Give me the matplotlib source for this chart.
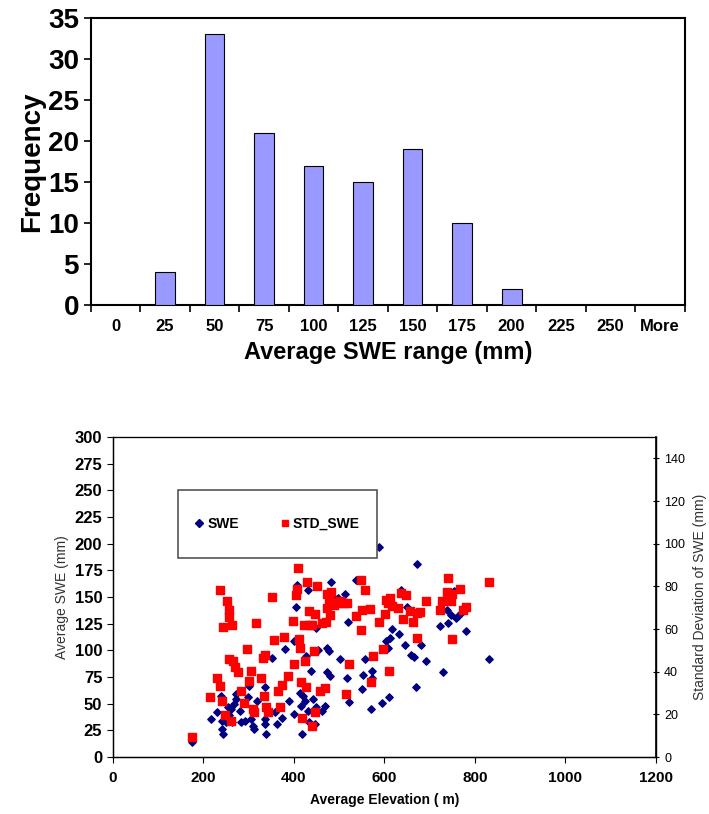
import numpy as np
import matplotlib
matplotlib.use("Agg")
import matplotlib.pyplot as plt
from matplotlib.patches import Rectangle
from matplotlib.lines import Line2D

plt.rcParams['font.family'] = ['Liberation Sans Narrow', 'Liberation Sans', 'DejaVu Sans']

# histogram of average SWE
bins = ["0", "25", "50", "75", "100", "125", "150", "175", "200", "225", "250", "More"]
freq = [0, 4, 33, 21, 17, 15, 19, 10, 2, 0, 0, 0]

# scatter: average elevation (m) vs average SWE (mm)
swe_elev = [175, 218, 231, 239, 241, 241, 243, 250, 255, 258, 261, 263, 268, 273, 273,
            281, 283, 293, 298, 301, 306, 311, 318, 313, 336, 338, 336, 336, 343, 353,
            358, 363, 375, 380, 390, 401, 401, 405, 408, 413, 415, 418, 420, 425, 428,
            431, 433, 431, 439, 443, 446, 450, 450, 453, 463, 468, 473, 473, 478, 481,
            483, 488, 498, 503, 513, 518, 519, 523, 538, 550, 553, 558, 573, 573, 571,
            589, 596, 603, 608, 611, 613, 618, 633, 638, 646, 651, 658, 665, 671, 673,
            681, 693, 723, 730, 738, 741, 748, 753, 758, 763, 770, 781, 831]
swe_val = [14, 36, 42, 57, 34, 26, 22, 33, 47, 39, 45, 33, 50, 54, 59,
           43, 33, 34, 56, 67, 36, 29, 53, 26, 31, 22, 36, 66, 42, 93,
           42, 31, 37, 101, 53, 40, 109, 141, 161, 60, 48, 22, 57, 53, 95,
           43, 33, 157, 81, 54, 31, 47, 121, 100, 43, 48, 102, 80, 99, 76,
           164, 149, 149, 92, 153, 74, 127, 52, 166, 64, 77, 92, 81, 74, 45,
           197, 51, 109, 102, 56, 112, 120, 115, 157, 105, 141, 96, 94, 66, 181,
           105, 90, 123, 80, 138, 126, 133, 156, 130, 132, 135, 118, 92]

# scatter: average elevation (m) vs standard deviation of SWE (mm)
std_elev = [175, 216, 231, 236, 238, 241, 243, 248, 253, 256, 258, 258, 261, 263, 266,
            271, 276, 283, 290, 296, 301, 305, 309, 313, 316, 328, 333, 335, 338, 336,
            343, 351, 356, 365, 370, 373, 378, 388, 398, 400, 405, 408, 410, 411, 413,
            415, 419, 423, 425, 427, 429, 433, 435, 441, 441, 445, 448, 448, 451, 458,
            463, 468, 471, 473, 473, 478, 481, 483, 488, 493, 498, 503, 510, 515, 518,
            523, 538, 548, 548, 550, 558, 568, 571, 575, 588, 598, 601, 603, 608, 611,
            613, 618, 631, 638, 641, 648, 656, 663, 673, 673, 678, 693, 723, 728, 738,
            741, 748, 750, 750, 768, 773, 781, 831]
std_val = [9.5, 28, 37, 78.5, 33.5, 26.5, 61, 19.5, 73, 46, 69, 65.5, 17, 62, 45,
           42, 40, 31, 25.5, 50.5, 35.5, 40.5, 22.5, 21, 63, 37, 46.5, 28.5, 23.5, 48,
           21, 75, 55, 31, 23.5, 34, 56.5, 38, 64, 43.5, 76, 79, 88.5, 55.5, 51,
           35, 18.5, 62, 45, 33, 82, 68.5, 62, 62, 14.5, 49.5, 21, 67, 80, 31,
           63, 32.5, 63.5, 76.5, 70, 73, 66.5, 77.5, 71.5, 72.5, 72, 73, 72, 29.5, 72,
           43.5, 66, 83, 59.5, 69, 78.5, 69.5, 35, 47.5, 63.5, 50.5, 67, 73.5, 72, 40.5,
           74.5, 71, 70, 77, 64.5, 76, 68.5, 63.5, 67.5, 56, 68, 73, 69, 73, 77.5,
           84, 73, 76.5, 55.5, 79, 69, 70.5, 82]

fig = plt.figure(figsize=(7.09, 8.14), dpi=100)

# ---- top: histogram ----
ax1 = fig.add_axes([0.128, 0.625, 0.838, 0.353])
x = np.arange(len(bins))
ax1.bar(x, freq, width=0.4, color="#9999FF", edgecolor="black", linewidth=0.8, zorder=3)
ax1.set_xlim(-0.5, len(bins) - 0.5)
ax1.set_ylim(0, 35)
ax1.set_yticks(range(0, 36, 5))
ax1.set_xticks(x)
ax1.set_xticklabels(bins, fontsize=12, fontweight="bold")
ax1.set_xticks(np.arange(-0.5, len(bins)), minor=True)
ax1.tick_params(axis="x", which="major", length=0, pad=10)
ax1.tick_params(axis="x", which="minor", length=5, width=1.2, direction="out")
ax1.tick_params(axis="y", length=5, width=1.2, direction="out", labelsize=20)
for lab in ax1.get_yticklabels():
    lab.set_fontweight("bold")
for s in ax1.spines.values():
    s.set_linewidth(1.5)
ax1.set_ylabel("Frequency", fontsize=20, fontweight="bold",
               family=["Liberation Sans", "DejaVu Sans"], labelpad=2)
ax1.set_xlabel("Average SWE range (mm)", fontsize=17, fontweight="bold", labelpad=5)

# ---- bottom: scatter with secondary axis ----
ax2 = fig.add_axes([0.159, 0.070, 0.766, 0.393])
ax2.scatter(swe_elev, swe_val, marker="D", s=14, color="#000080", zorder=3)
ax2.set_xlim(0, 1200)
ax2.set_ylim(0, 300)
ax2.set_xticks(range(0, 1201, 200))
ax2.set_yticks(range(0, 301, 25))
ax2.tick_params(axis="x", length=4, direction="out", labelsize=11, pad=6)
ax2.tick_params(axis="y", length=4, direction="out", labelsize=12)
for lab in ax2.get_yticklabels() + ax2.get_xticklabels():
    lab.set_fontweight("bold")
ax2.set_xlabel("Average Elevation ( m)", fontsize=10, fontweight="bold",
               family=["Liberation Sans", "DejaVu Sans"], labelpad=6)
ax2.set_ylabel("Average SWE (mm)", fontsize=10, family=["Liberation Sans", "DejaVu Sans"],
               color="#333333", labelpad=4)
for name, s in ax2.spines.items():
    s.set_linewidth(1.0)
ax2.spines["top"].set_color("#777777")

ax3 = ax2.twinx()
ax3.scatter(std_elev, std_val, marker="s", s=28, color="#FF0000", zorder=4)
ax3.set_ylim(0, 150)
ax3.set_yticks(range(0, 141, 20))
ax3.tick_params(axis="y", length=5, direction="inout", labelsize=9)
ax3.set_ylabel("Standard Deviation of SWE (mm)", fontsize=10,
               family=["Liberation Sans", "DejaVu Sans"], color="#333333", labelpad=6)
ax3.spines["right"].set_linewidth(1.2)

# legend box
ax3.add_patch(Rectangle((0.12, 0.622), 0.366, 0.212, transform=ax3.transAxes,
                        facecolor="white", edgecolor="#555555", linewidth=1.2, zorder=5))
handles = [Line2D([], [], marker="D", linestyle="none", color="#000080", markersize=4),
           Line2D([], [], marker="s", linestyle="none", color="#FF0000", markersize=5)]
leg = ax3.legend(handles, ["SWE", "STD_SWE"], ncol=2, frameon=False, loc="center",
                 bbox_to_anchor=(0.12, 0.622, 0.366, 0.212), handlelength=0.6,
                 handletextpad=0.3, columnspacing=3.0,
                 prop={"weight": "bold", "size": 10, "family": ["Liberation Sans", "DejaVu Sans"]})
leg.set_zorder(6)

fig.savefig("out.png", dpi=100)
